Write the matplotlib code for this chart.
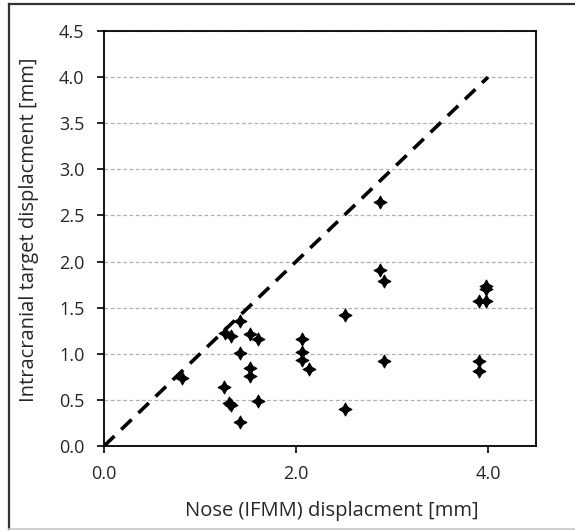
import matplotlib.pyplot as plt
from matplotlib.lines import Line2D

# nose displacement (x) vs intracranial target displacement (y), mm
nose_disp = [0.81, 1.25, 1.30, 1.32, 1.42, 1.26, 1.32, 1.42, 1.42, 1.52, 1.60,
             1.52, 1.52, 1.60, 2.06, 2.06, 2.06, 2.14, 2.51, 2.51, 2.87, 2.87,
             2.92, 2.92, 3.91, 3.91, 3.91, 3.98, 3.98, 3.98]
target_disp = [0.74, 0.64, 0.47, 0.45, 0.26, 1.23, 1.19, 1.36, 1.01, 1.21, 1.16,
               0.85, 0.76, 0.49, 1.16, 1.02, 0.93, 0.83, 1.42, 0.40, 2.65, 1.91,
               1.79, 0.92, 0.92, 0.81, 1.57, 1.57, 1.70, 1.73]
identity = [0.0, 4.0]

x_ticks = [0.0, 2.0, 4.0]
y_ticks = [0.0, 0.5, 1.0, 1.5, 2.0, 2.5, 3.0, 3.5, 4.0, 4.5]

plt.rcParams['font.family'] = ['Open Sans', 'DejaVu Sans']

fig = plt.figure(figsize=(5.75, 5.31), dpi=100)
ax = fig.add_axes([0.1809, 0.160, 0.7513, 0.7816])

# chart area border: dark left/top, pale bottom, right side cut off
W, H = 575, 531
fig.add_artist(Line2D([9 / W, 9 / W], [2 / H, 1 - 4 / H], transform=fig.transFigure,
                      color='#333333', linewidth=1.6))
fig.add_artist(Line2D([9 / W, 1], [1 - 4 / H, 1 - 4 / H], transform=fig.transFigure,
                      color='#333333', linewidth=1.6))
fig.add_artist(Line2D([9 / W, 1], [2 / H, 2 / H], transform=fig.transFigure,
                      color='#c8c8c8', linewidth=1.2))

ax.plot(identity, identity, color='black', linestyle=(0, (4, 2.6)), linewidth=2.6, zorder=2)
ax.scatter(nose_disp, target_disp, marker=(4, 1, 0), s=85, color='black',
           linewidths=0.8, zorder=3)

ax.set_xlim(0, 4.5)
ax.set_ylim(0, 4.5)
ax.set_xticks(x_ticks)
ax.set_yticks(y_ticks)
ax.set_xticklabels([f'{v:.1f}' for v in x_ticks])
ax.set_yticklabels([f'{v:.1f}' for v in y_ticks])
ax.tick_params(direction='out', length=5, width=1.2, labelsize=13,
               colors='black', labelcolor='#262626', pad=9)

ax.grid(axis='y', color='#b0b0b0', linestyle=(0, (3, 2)), linewidth=0.9)
ax.set_axisbelow(True)
for s in ax.spines.values():
    s.set_linewidth(1.3)
    s.set_color('black')

ax.set_xlabel('Nose (IFMM) displacment [mm]', fontsize=14.5, color='#262626')
ax.set_ylabel('Intracranial target displacment [mm]', fontsize=14.5, color='#262626')
ax.xaxis.set_label_coords(0.528, -0.132)
ax.yaxis.set_label_coords(-0.15, 0.52)

fig.savefig('out.png', dpi=100)
